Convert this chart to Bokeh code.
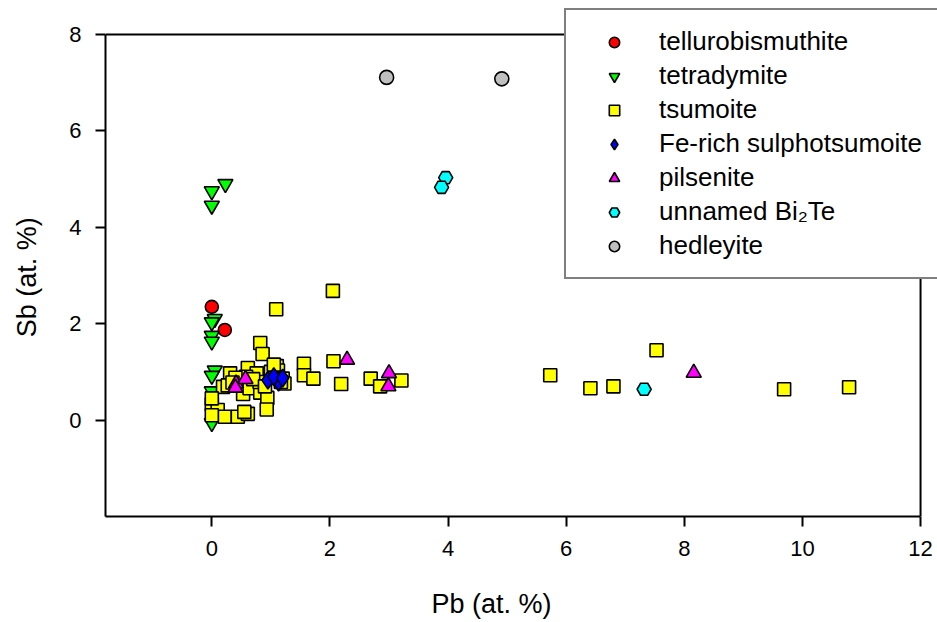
from bokeh.plotting import figure
from bokeh.models import Legend, LegendItem, FixedTicker
from bokeh.embed import file_html
from bokeh.resources import INLINE

# --- data (Pb at.%, Sb at.%) ---
tel_pb = [0.0, 0.22]
tel_sb = [2.35, 1.87]

tet_pb = [0.0, 0.0, 0.23, 0.05, 0.0, 0.0, 0.0, 0.05, 0.0, 0.0, 0.02, 0.0]
tet_sb = [4.75, 4.45, 4.90, 2.10, 2.03, 1.75, 1.63, 1.03, 0.92, 0.60, 0.02, -0.06]

tsu_pb = [2.05, 1.09, 0.82, 0.86, 1.56, 1.56, 1.72, 2.06, 2.19, 2.69, 2.85, 3.21,
          5.73, 6.41, 6.80, 7.53, 9.69, 10.79,
          0.31, 0.61, 0.76, 1.10, 1.12, 0.19, 0.27, 0.53, 0.64, 0.82, 0.94, 0.93,
          0.00, 0.10, 0.22, 0.44, 0.61, 0.55, 0.00, 1.20, 1.23, 0.81, 0.58, 1.17,
          0.40, 0.70, 1.00, 0.90, 0.35, 1.05, 0.00]
tsu_sb = [2.68, 2.30, 1.60, 1.37, 1.17, 0.93, 0.86, 1.22, 0.75, 0.86, 0.70, 0.82,
          0.93, 0.66, 0.70, 1.45, 0.64, 0.68,
          0.97, 1.08, 0.97, 1.12, 1.03, 0.69, 0.72, 0.54, 0.66, 0.57, 0.46, 0.22,
          0.33, 0.21, 0.07, 0.07, 0.13, 0.17, 0.10, 0.86, 0.76, 0.79, 0.90, 0.79,
          0.88, 0.85, 1.00, 0.70, 0.78, 1.15, 0.45]

fer_pb = [0.95, 1.13, 1.05, 1.20]
fer_sb = [0.83, 0.79, 0.90, 0.87]

pil_pb = [0.41, 0.57, 0.40, 2.29, 3.00, 2.99, 8.16]
pil_sb = [0.76, 0.85, 0.67, 1.25, 0.97, 0.70, 0.98]

unn_pb = [3.96, 3.89, 7.32]
unn_sb = [5.03, 4.83, 0.64]

hed_pb = [2.96, 4.91]
hed_sb = [7.11, 7.08]

x_ticks = [0, 2, 4, 6, 8, 10, 12]
y_ticks = [0, 2, 4, 6, 8]
x_min, x_max = -1.8, 12
y_min, y_max = -2, 8

FONT = "Liberation Sans"
NBSP = "\u00a0"

# frame reaches the top/right edges of the canvas so the legend may overhang the axes box
p = figure(width=937, height=622, output_backend="svg", toolbar_location=None,
           x_range=(x_min, 12.287), y_range=(y_min, 8.705),
           min_border_left=105, min_border_right=0, min_border_top=0, min_border_bottom=106)
p.title.text = ""
p.grid.visible = False
p.background_fill_color = "white"
p.border_fill_color = "white"
p.outline_line_color = None


def style_axis(ax):
    ax.axis_line_width = 2
    ax.major_tick_line_width = 2
    ax.major_tick_out = 10
    ax.major_tick_in = 0
    ax.minor_tick_line_color = None
    ax.major_label_text_font = FONT
    ax.major_label_text_font_size = "22px"
    ax.major_label_text_color = "black"
    ax.axis_label_text_font = FONT
    ax.axis_label_text_font_size = "27px"
    ax.axis_label_text_font_style = "normal"
    ax.axis_label_text_color = "black"


for ax in (p.xaxis[0], p.yaxis[0]):
    style_axis(ax)

p.xaxis[0].ticker = FixedTicker(ticks=x_ticks)
p.yaxis[0].ticker = FixedTicker(ticks=y_ticks)
p.xaxis[0].bounds = (x_min, x_max)
p.yaxis[0].bounds = (y_min, y_max)
# trailing no-break spaces re-centre the titles on the axes box rather than the wider frame
p.xaxis.axis_label = "Pb (at. %)" + NBSP * 8
p.yaxis.axis_label = "Sb (at. %)" + NBSP * 5
p.xaxis.major_label_standoff = 14
p.xaxis.axis_label_standoff = 30
p.yaxis.major_label_standoff = 14
p.yaxis.axis_label_standoff = 24

# top and right edges of the axes box, from the axis limits
p.segment(x0=[x_min, x_max], y0=[y_max, y_min], x1=[x_max, x_max], y1=[y_max, y_max],
          line_color="black", line_width=2)

lw = 1.6
r_tel = p.scatter(tel_pb, tel_sb, marker="circle", size=13, fill_color="#FF0000", line_color="black", line_width=lw)
r_tet = p.scatter(tet_pb, tet_sb, marker="inverted_triangle", size=15, fill_color="#00FF00", line_color="black", line_width=lw)
r_tsu = p.scatter(tsu_pb, tsu_sb, marker="square", size=13, fill_color="#FFFF00", line_color="black", line_width=lw)
r_fer = p.scatter(fer_pb, fer_sb, marker="diamond", size=18, fill_color="#0000FF", line_color="black", line_width=lw)
r_pil = p.scatter(pil_pb, pil_sb, marker="triangle", size=15, fill_color="#FF00FF", line_color="black", line_width=lw)
r_unn = p.scatter(unn_pb, unn_sb, marker="hex", size=14, fill_color="#00FFFF", line_color="black", line_width=lw)
r_hed = p.scatter(hed_pb, hed_sb, marker="circle", size=14, fill_color="#C0C0C0", line_color="black", line_width=lw)

legend = Legend(items=[
    LegendItem(label="tellurobismuthite", renderers=[r_tel]),
    LegendItem(label="tetradymite", renderers=[r_tet]),
    LegendItem(label="tsumoite", renderers=[r_tsu]),
    LegendItem(label="Fe-rich sulphotsumoite", renderers=[r_fer]),
    LegendItem(label="pilsenite", renderers=[r_pil]),
    LegendItem(label="unnamed Bi\u2082Te", renderers=[r_unn]),
    LegendItem(label="hedleyite", renderers=[r_hed]),
], location=(459, 237))
legend.label_text_font = FONT
legend.label_text_font_size = "26px"
legend.label_text_color = "black"
legend.label_height = 26
legend.glyph_height = 26
legend.glyph_width = 64
legend.label_standoff = 13
legend.spacing = 3
legend.padding = 16
legend.margin = 0
legend.border_line_color = "black"
legend.border_line_width = 2
legend.background_fill_color = "white"
legend.background_fill_alpha = 1.0
p.add_layout(legend, "center")

open("out.html", "w").write(file_html(p, INLINE))
